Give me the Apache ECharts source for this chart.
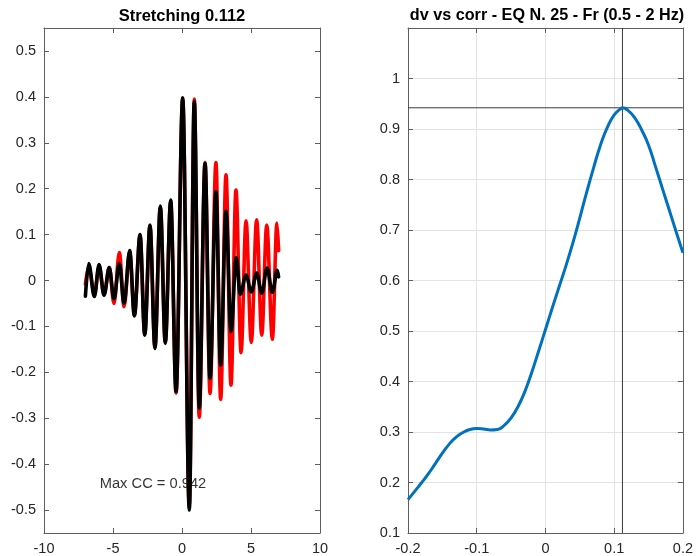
<!DOCTYPE html>
<html>
<head>
<meta charset="utf-8">
<script src="https://cdn.jsdelivr.net/npm/echarts@6/dist/echarts.min.js"></script>
<style>
  html, body { margin: 0; padding: 0; background: #ffffff; }
  #chart { width: 696px; height: 556px; }
</style>
</head>
<body>
<div id="chart"></div>
<script>
// Left panel: stretched trace (red) and reference trace (black),
// given as successive peaks / troughs (time in s, amplitude).
const redTime = [-7.00, -6.76, -6.35, -6.01, -5.65, -5.27, -4.93, -4.54, -4.20, -3.79, -3.45, -3.04, -2.70,
  -2.32, -1.96, -1.57, -1.21, -0.82, -0.43, 0.05, 0.53, 0.89, 1.25, 1.67, 2.03, 2.46, 2.80, 3.19, 3.55,
  3.91, 4.28, 4.64, 5.02, 5.41, 5.78, 6.14, 6.55, 6.88, 7.00];
const redAmp = [-0.008, 0.030, -0.030, 0.030, -0.030, 0.028, -0.050, 0.061, -0.057, 0.062, -0.075, 0.098, -0.117,
  0.119, -0.145, 0.160, -0.135, 0.172, -0.245, 0.395, -0.490, 0.395, -0.298, 0.257, -0.246, 0.257, -0.259, 0.230, -0.228,
  0.197, -0.157, 0.130, -0.135, 0.132, -0.119, 0.121, -0.128, 0.125, 0.065];

const blackTime = [-7.00, -6.76, -6.35, -6.01, -5.65, -5.27, -4.93, -4.54, -4.20, -3.79, -3.45, -3.04, -2.70,
  -2.32, -1.96, -1.57, -1.21, -0.82, -0.43, 0.05, 0.53, 0.89, 1.25, 1.67, 2.03, 2.46, 2.80, 3.19, 3.55,
  3.93, 4.22, 4.64, 5.02, 5.41, 5.78, 6.16, 6.55, 6.90, 7.00];
const blackAmp = [-0.034, 0.037, -0.035, 0.035, -0.032, 0.028, -0.040, 0.037, -0.050, 0.065, -0.077, 0.100, -0.119,
  0.121, -0.148, 0.162, -0.137, 0.175, -0.242, 0.398, -0.500, 0.390, -0.278, 0.255, -0.213, 0.193, -0.184, 0.151, -0.111,
  0.050, -0.030, 0.012, -0.025, 0.016, -0.028, 0.027, -0.026, 0.022, 0.008];

// Right panel: correlation coefficient against dv
const dv = [-0.20, -0.19, -0.18, -0.17, -0.16, -0.15, -0.14, -0.13, -0.12, -0.11, -0.10, -0.09, -0.08, -0.07,
  -0.06, -0.05, -0.04, -0.03, -0.02, -0.01, 0.00, 0.01, 0.02, 0.03, 0.04, 0.05, 0.06, 0.07, 0.08, 0.09, 0.10,
  0.11, 0.112, 0.12, 0.13, 0.14, 0.15, 0.16, 0.17, 0.18, 0.19, 0.20];
const corr = [0.166, 0.183, 0.200, 0.218, 0.238, 0.258, 0.276, 0.290, 0.299, 0.305, 0.307, 0.306, 0.304, 0.305,
  0.313, 0.328, 0.350, 0.380, 0.418, 0.460, 0.503, 0.546, 0.588, 0.630, 0.675, 0.724, 0.775, 0.823, 0.868, 0.903, 0.928,
  0.941, 0.942, 0.937, 0.922, 0.898, 0.868, 0.826, 0.783, 0.740, 0.697, 0.655];

const bestDv = 0.112;
const maxCC = 0.942;

const leftTitle = 'Stretching 0.112';
const rightTitle = 'dv vs corr - EQ N. 25 - Fr (0.5 - 2 Hz)';
const ccText = 'Max CC = 0.942';
const ccTextAt = [-6.0, -0.443];

const leftYTicks = [-0.5, -0.4, -0.3, -0.2, -0.1, 0, 0.1, 0.2, 0.3, 0.4, 0.5];

const FONT = '"Liberation Sans", Arial, Helvetica, sans-serif';
const AX = '#5e5e5e';
const LBL = '#262626';

function pairs(xs, ys) { return xs.map((x, i) => [x, ys[i]]); }

function boxAxis(extra, showLabel) {
  return Object.assign({
    type: 'value',
    axisLine: { show: true, onZero: false, lineStyle: { color: AX, width: 1 } },
    axisTick: { show: true, inside: true, length: 5, lineStyle: { color: AX, width: 1 } },
    axisLabel: { show: showLabel, color: LBL, fontFamily: FONT, fontSize: 14.5, margin: 8 },
    splitLine: { show: false }
  }, extra);
}

const chart = echarts.init(document.getElementById('chart'), null, { renderer: 'canvas' });

const leftX = { min: -10, max: 10, interval: 5 };
const leftY = { min: -0.55, max: 0.55 };
const rightX = { min: -0.2, max: 0.2, interval: 0.1 };
const rightY = { min: 0.1, max: 1.1, interval: 0.1 };

function leftYAxis(pos, showLabel) {
  const a = boxAxis(Object.assign({ gridIndex: 0, position: pos }, leftY), showLabel);
  a.axisTick.customValues = leftYTicks;
  a.axisLabel.customValues = leftYTicks;
  return a;
}

const rightGridLine = { show: true, lineStyle: { color: '#e3e3e3', width: 1 } };

const option = {
  animation: false,
  backgroundColor: '#ffffff',
  title: [
    { text: leftTitle, left: 182, top: 8, textAlign: 'center', padding: 0,
      textStyle: { fontFamily: FONT, fontSize: 16.5, fontWeight: 'bold', color: '#000' } },
    { text: rightTitle, left: 547, top: 8, textAlign: 'center', padding: 0,
      textStyle: { fontFamily: FONT, fontSize: 16.2, fontWeight: 'bold', color: '#000' } }
  ],
  grid: [
    { left: 44, right: 376, top: 28, bottom: 23 },
    { left: 408, right: 11, top: 28, bottom: 23 }
  ],
  xAxis: [
    boxAxis(Object.assign({ gridIndex: 0, position: 'bottom' }, leftX), true),
    boxAxis(Object.assign({ gridIndex: 0, position: 'top' }, leftX), false),
    boxAxis(Object.assign({ gridIndex: 1, position: 'bottom', splitLine: rightGridLine }, rightX), true),
    boxAxis(Object.assign({ gridIndex: 1, position: 'top' }, rightX), false)
  ],
  yAxis: [
    leftYAxis('left', true),
    leftYAxis('right', false),
    boxAxis(Object.assign({ gridIndex: 1, position: 'left', splitLine: rightGridLine }, rightY), true),
    boxAxis(Object.assign({ gridIndex: 1, position: 'right' }, rightY), false)
  ],
  series: [
    {
      type: 'scatter', xAxisIndex: 0, yAxisIndex: 0,
      data: [ccTextAt], symbolSize: 1, itemStyle: { color: 'rgba(0,0,0,0)' },
      label: { show: true, position: 'right', distance: 0, formatter: ccText,
        fontFamily: FONT, fontSize: 14.7, color: '#000' },
      silent: true, z: 1
    },
    {
      type: 'line', xAxisIndex: 0, yAxisIndex: 0,
      data: pairs(redTime, redAmp),
      showSymbol: false, smooth: 0.35, smoothMonotone: 'x',
      lineStyle: { color: '#ff0000', width: 3.6, cap: 'round', join: 'round' },
      z: 3
    },
    {
      type: 'line', xAxisIndex: 0, yAxisIndex: 0,
      data: pairs(blackTime, blackAmp),
      showSymbol: false, smooth: 0.35, smoothMonotone: 'x',
      lineStyle: { color: '#000000', width: 3.6, cap: 'round', join: 'round' },
      z: 4
    },
    {
      type: 'line', xAxisIndex: 2, yAxisIndex: 2,
      data: [[bestDv, rightY.min], [bestDv, rightY.max]],
      showSymbol: false, lineStyle: { color: '#3a3a3a', width: 1 }
    },
    {
      type: 'line', xAxisIndex: 2, yAxisIndex: 2,
      data: [[rightX.min, maxCC], [rightX.max, maxCC]],
      showSymbol: false, lineStyle: { color: '#3a3a3a', width: 1 }
    },
    {
      type: 'line', xAxisIndex: 2, yAxisIndex: 2,
      data: pairs(dv, corr),
      showSymbol: false, smooth: true,
      lineStyle: { color: '#0072BD', width: 3 }
    }
  ]
};

// the 1.1 label at the top edge of the right panel stays unlabelled
option.yAxis[2].axisLabel.showMaxLabel = false;

chart.setOption(option);
</script>
</body>
</html>
